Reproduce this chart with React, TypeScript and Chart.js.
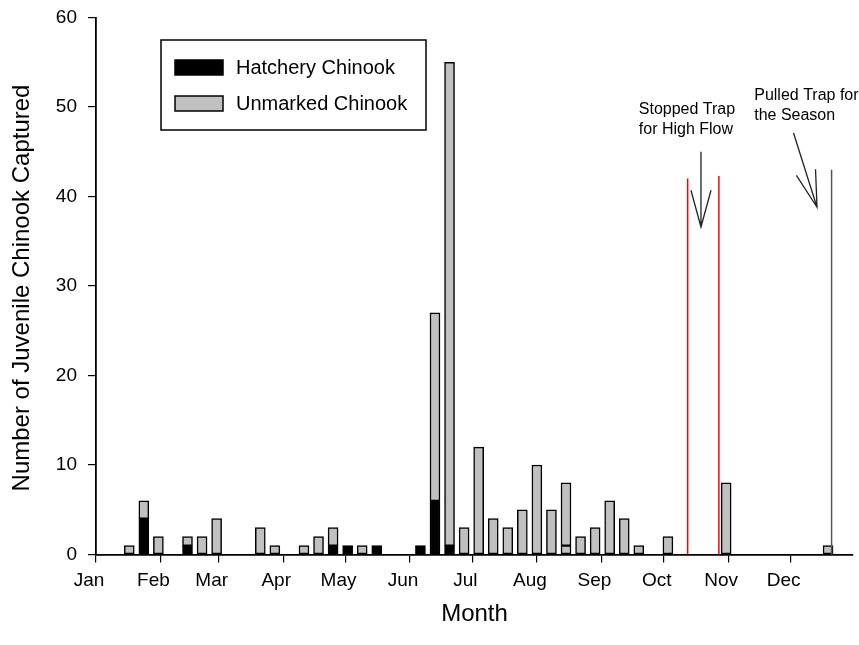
import { useEffect, useRef } from "react"
import { Chart, registerables } from "chart.js"

Chart.register(...registerables)

// day of year (0 = Jan 1) at the centre of each weekly bar
const weekDays = [16, 23, 30, 44, 51, 58, 79, 86, 100, 107, 114, 121, 128, 135, 156, 163, 170, 177, 184, 191, 198, 205, 212, 219, 226, 233, 240, 247, 254, 261, 275, 303, 352]
const hatchery = [0, 4, 0, 1, 0, 0, 0, 0, 0, 0, 1, 1, 0, 1, 1, 6, 1, 0, 0, 0, 0, 0, 0, 0, 0, 0, 0, 0, 0, 0, 0, 0, 0]
const unmarked = [1, 2, 2, 1, 2, 4, 3, 1, 1, 2, 2, 0, 1, 0, 0, 21, 54, 3, 12, 4, 3, 5, 10, 5, 1, 2, 3, 6, 4, 1, 2, 8, 1]
// second unmarked sample stacked on top in the mid-August week
const unmarkedExtra = [0, 0, 0, 0, 0, 0, 0, 0, 0, 0, 0, 0, 0, 0, 0, 0, 0, 0, 0, 0, 0, 0, 0, 0, 7, 0, 0, 0, 0, 0, 0, 0, 0]

const monthStarts = [0, 31, 59, 90, 120, 151, 181, 212, 243, 273, 304, 334]
const monthNames = ["Jan", "Feb", "Mar", "Apr", "May", "Jun", "Jul", "Aug", "Sep", "Oct", "Nov", "Dec"]
const yTicks = [0, 10, 20, 30, 40, 50, 60]

// annotation marks in data units (day, count)
const stopLineDays = [284.5, 299.5]
const stopLineTops = [42, 42.3]
const seasonEndDay = 353.7
const seasonEndTop = 43
const arrowFrom = [[290.9, 45.0], [335.4, 47.1]]
const arrowTo = [[290.9, 36.6], [346.7, 38.8]]
const noteAt = [[261, 49.7], [316.5, 51.3]]
const noteText = [["Stopped Trap", "for High Flow"], ["Pulled Trap for", "the Season"]]

const FONT = "'Liberation Sans', Arial, sans-serif"
const GRAY = "#c0c0c0"

const toBars = (vals: number[]) => weekDays.map((d, i) => ({ x: d, y: vals[i] > 0 ? vals[i] : null }))

const overlay = {
  id: "overlay",
  afterDatasetsDraw(chart: any) {
    const { ctx, scales } = chart
    const x = scales.x
    const y = scales.y
    ctx.save()

    ctx.lineWidth = 1.5
    ctx.strokeStyle = "#ff0000"
    stopLineDays.forEach((d, i) => {
      ctx.beginPath()
      ctx.moveTo(x.getPixelForValue(d), y.getPixelForValue(0))
      ctx.lineTo(x.getPixelForValue(d), y.getPixelForValue(stopLineTops[i]))
      ctx.stroke()
    })
    ctx.strokeStyle = "#555"
    ctx.beginPath()
    ctx.moveTo(x.getPixelForValue(seasonEndDay), y.getPixelForValue(0))
    ctx.lineTo(x.getPixelForValue(seasonEndDay), y.getPixelForValue(seasonEndTop))
    ctx.stroke()

    ctx.strokeStyle = "#222"
    ctx.lineWidth = 1.3
    arrowFrom.forEach((from, i) => {
      const x0 = x.getPixelForValue(from[0])
      const y0 = y.getPixelForValue(from[1])
      const x1 = x.getPixelForValue(arrowTo[i][0])
      const y1 = y.getPixelForValue(arrowTo[i][1])
      const back = Math.atan2(y0 - y1, x0 - x1)
      const spread = (15.3 * Math.PI) / 180
      ctx.beginPath()
      ctx.moveTo(x0, y0)
      ctx.lineTo(x1, y1)
      ctx.moveTo(x1 + 38 * Math.cos(back - spread), y1 + 38 * Math.sin(back - spread))
      ctx.lineTo(x1, y1)
      ctx.lineTo(x1 + 38 * Math.cos(back + spread), y1 + 38 * Math.sin(back + spread))
      ctx.stroke()
    })

    ctx.fillStyle = "#000"
    ctx.font = `16px ${FONT}`
    ctx.textAlign = "left"
    ctx.textBaseline = "middle"
    noteAt.forEach((p, i) => {
      const px = x.getPixelForValue(p[0])
      const py = y.getPixelForValue(p[1])
      noteText[i].forEach((t, j) => ctx.fillText(t, px, py + j * 20))
    })

    // legend box inside the plot
    const area = chart.chartArea
    const left = area.left + 65
    const top = area.top + 22.5
    ctx.lineWidth = 1.5
    ctx.strokeStyle = "#000"
    ctx.strokeRect(left, top, 265, 90)
    const items = chart.data.datasets.filter((ds: any) => ds.label)
    ctx.font = `20px ${FONT}`
    items.forEach((ds: any, i: number) => {
      const cy = top + 27.5 + i * 36
      ctx.fillStyle = ds.backgroundColor
      ctx.fillRect(left + 14, cy - 7.5, 48, 15)
      ctx.strokeRect(left + 14, cy - 7.5, 48, 15)
      ctx.fillStyle = "#000"
      ctx.fillText(ds.label, left + 75, cy + 1)
    })

    // axis titles
    ctx.font = `24px ${FONT}`
    ctx.textAlign = "center"
    ctx.fillText("Month", (area.left + area.right) / 2, area.bottom + 60)
    ctx.translate(22, (area.top + area.bottom) / 2 + 2)
    ctx.rotate(-Math.PI / 2)
    ctx.fillText("Number of Juvenile Chinook Captured", 0, 0)
    ctx.restore()
  },
}

export default function App() {
  const canvasRef = useRef<HTMLCanvasElement | null>(null)

  useEffect(() => {
    if (!canvasRef.current) return
    const ctx = canvasRef.current.getContext("2d")
    if (!ctx) return

    const barStyle = {
      borderColor: "#000",
      borderWidth: 1.5,
      borderSkipped: false as const,
      barThickness: 10,
    }

    const chart = new Chart(ctx, {
      type: "bar",
      data: {
        datasets: [
          { label: "Hatchery Chinook", data: toBars(hatchery), backgroundColor: "#000", ...barStyle },
          { label: "Unmarked Chinook", data: toBars(unmarked), backgroundColor: GRAY, ...barStyle },
          { label: "", data: toBars(unmarkedExtra), backgroundColor: GRAY, ...barStyle },
        ],
      },
      options: {
        animation: false,
        responsive: true,
        maintainAspectRatio: false,
        layout: { padding: { top: 17.5, right: 6, left: 0, bottom: 0 } },
        plugins: { legend: { display: false }, tooltip: { enabled: false } },
        scales: {
          x: {
            type: "linear",
            min: 0,
            max: 364,
            stacked: true,
            offset: false,
            afterBuildTicks: (scale: any) => {
              scale.ticks = monthStarts.map((v) => ({ value: v }))
            },
            afterFit: (scale: any) => {
              scale.height = 90.5
              scale.paddingLeft = 0
              scale.paddingRight = 0
            },
            ticks: {
              callback: (_v: any, i: number) => monthNames[i],
              font: { family: FONT, size: 19 },
              color: "#000",
              padding: 7,
              labelOffset: -7,
              maxRotation: 0,
              autoSkip: false,
            },
            grid: { drawOnChartArea: false, drawTicks: true, tickLength: 8, color: "#000", lineWidth: 1.2, offset: false },
            border: { display: true, color: "#000", width: 1.8 },
          },
          y: {
            min: 0,
            max: 60,
            stacked: true,
            afterBuildTicks: (scale: any) => {
              scale.ticks = yTicks.map((v) => ({ value: v }))
            },
            afterFit: (scale: any) => {
              scale.width = 96
              scale.paddingTop = 0
              scale.paddingBottom = 0
            },
            ticks: {
              font: { family: FONT, size: 19 },
              color: "#000",
              padding: 11,
            },
            grid: { drawOnChartArea: false, drawTicks: true, tickLength: 8, color: "#000", lineWidth: 1.2 },
            border: { display: true, color: "#000", width: 1.8 },
          },
        },
      },
      plugins: [overlay],
    })

    return () => chart.destroy()
  }, [])

  return (
    <div style={{ position: "absolute", left: 0, top: 0, width: 859, height: 645, background: "#fff" }}>
      <canvas ref={canvasRef} />
    </div>
  )
}
